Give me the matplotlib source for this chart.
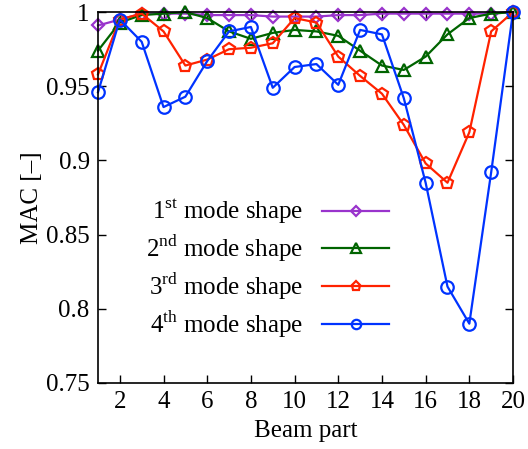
import matplotlib
matplotlib.use("Agg")
import matplotlib.pyplot as plt
from matplotlib.ticker import FuncFormatter

plt.rcParams['font.family'] = 'Liberation Serif'
plt.rcParams['mathtext.fontset'] = 'custom'
plt.rcParams['mathtext.rm'] = 'Liberation Serif'
plt.rcParams['font.size'] = 18

# beam parts 1..20
parts = list(range(1, 21))
mode1 = [0.991, 0.995, 0.999, 0.999, 0.999, 0.998, 0.998, 0.998, 0.997, 0.997,
         0.997, 0.998, 0.998, 0.999, 0.999, 0.999, 0.999, 0.999, 0.999, 1.0]
mode2 = [0.974, 0.993, 0.998, 0.999, 1.0, 0.996, 0.987, 0.982, 0.986, 0.988,
         0.987, 0.984, 0.974, 0.964, 0.961, 0.970, 0.985, 0.996, 0.999, 1.0]
mode3 = [0.958, 0.995, 0.999, 0.987, 0.964, 0.968, 0.975, 0.976, 0.979, 0.996,
         0.993, 0.970, 0.957, 0.945, 0.924, 0.898, 0.885, 0.919, 0.987, 1.0]
mode4 = [0.946, 0.995, 0.980, 0.936, 0.943, 0.967, 0.987, 0.990, 0.949, 0.963,
         0.965, 0.951, 0.988, 0.985, 0.942, 0.885, 0.815, 0.790, 0.892, 1.0]
labels = [r'$1^{\rm st}$ mode shape', r'$2^{\rm nd}$ mode shape',
          r'$3^{\rm rd}$ mode shape', r'$4^{\rm th}$ mode shape']

fig = plt.figure(figsize=(5.28, 4.49), dpi=100)
ax = fig.add_axes([0.1856, 0.147, 0.786, 0.826])

style = dict(lw=1.6, mew=1.6, mfc='none', clip_on=False)
ax.plot(parts, mode1, '-D', color='#9933cc', ms=6.5, label=labels[0], **style)
ax.plot(parts, mode2, '-^', color='#006400', ms=9, label=labels[1], **style)
ax.plot(parts, mode3, '-p', color='#ff2200', ms=9, label=labels[2], **style)
ax.plot(parts, mode4, '-o', color='#0033ff', ms=9, label=labels[3], **style)

ax.set_xlim(1, 20)
ax.set_ylim(0.75, 1.0)
ax.set_xticks(range(2, 21, 2))
ax.set_yticks([0.75, 0.8, 0.85, 0.9, 0.95, 1.0])
ax.yaxis.set_major_formatter(FuncFormatter(lambda v, p: '%g' % round(v, 3)))
ax.tick_params(direction='in', top=True, right=True, length=6, width=1, labelsize=18)
ax.tick_params(axis='x', pad=6)
ax.tick_params(axis='y', pad=6)
for s in ax.spines.values():
    s.set_linewidth(1.2)
ax.set_xlabel('Beam part', labelpad=5)
ax.set_ylabel('MAC [\u2013]', labelpad=2)

ax.legend(loc='lower right', bbox_to_anchor=(0.732, 0.082), frameon=False,
          markerfirst=False, handlelength=2.7, labelspacing=0.28, handletextpad=0.75,
          borderpad=0, markerscale=0.75)

fig.savefig('out.png', dpi=100)
